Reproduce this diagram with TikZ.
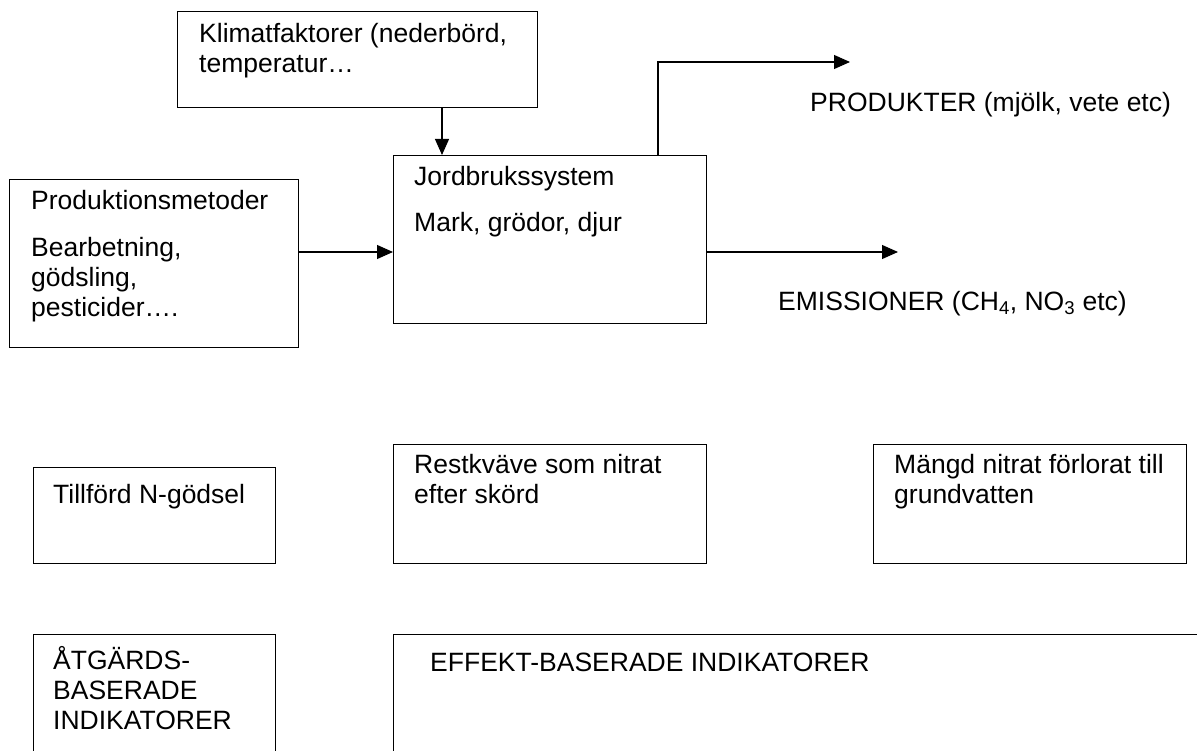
\documentclass[tikz,border=0pt]{standalone}
\usepackage{fontspec}
\setmainfont{Liberation Sans}
\usetikzlibrary{arrows.meta, calc}

\begin{document}
\begin{tikzpicture}[x=1pt, y=-1pt,
        box/.style={draw, line width=1.1pt, anchor=north west, inner sep=0pt},
        lbl/.style={anchor=north west, yshift=25pt, align=left, inner sep=0pt,
            font=\fontsize{26.5}{30}\selectfont, execute at begin node={\rule{0pt}{25pt}}},
        arr/.style={line width=1.1pt, -{Triangle[length=16pt, width=14pt]}}]

    \useasboundingbox (0,0) rectangle (1197,751);
    \clip (0,0) rectangle (1197,751);

    % upper system
    \node[box, minimum width=360pt, minimum height=96pt] (klimat) at (177,11) {};
    \node[lbl] (klimattext) at ($ (klimat.north west) + (22,37) $) {Klimatfaktorer (nederbörd,\\temperatur…};

    \node[box, minimum width=313pt, minimum height=168pt] (jord) at (393,155) {};
    \node[lbl] (jordtext) at ($ (jord.north west) + (21,36) $) {Jordbrukssystem\\[16pt]Mark, grödor, djur};

    \node[box, minimum width=289pt, minimum height=168pt] (prod) at (9,179) {};
    \node[lbl] (prodtext) at ($ (prod.north west) + (22,36) $) {Produktionsmetoder\\[17pt]Bearbetning,\\gödsling,\\pesticider….};

    % arrows
    \coordinate (klimx) at (442,0);
    \coordinate (midy) at (0,252);
    \coordinate (produp) at (658,62);
    \coordinate (prodend) at (850,62);
    \coordinate (emisend) at (898,252);

    \draw[arr] (klimat.south -| klimx) -- (jord.north -| klimx);
    \draw[arr] (prod.east |- midy) -- (jord.west |- midy);
    \draw[arr] (jord.east |- midy) -- (emisend);
    \draw[arr] (jord.north -| produp) -- (produp) -- (prodend);

    \node[lbl] (produkter) at ($ (prodend) + (-40,49) $) {PRODUKTER (mjölk, vete etc)};
    \node[lbl] (emissioner) at ($ (emisend) + (-120,58) $) {EMISSIONER (CH\textsubscript{4}, NO\textsubscript{3} etc)};

    % indicators
    \node[box, minimum width=242pt, minimum height=96pt] (tillford) at (33,467) {};
    \node[lbl] (tillfordtext) at ($ (tillford.north west) + (20,36) $) {Tillförd N-gödsel};

    \node[box, minimum width=313pt, minimum height=119pt] (restkv) at (393,444) {};
    \node[lbl] (restkvtext) at ($ (restkv.north west) + (21,35) $) {Restkväve som nitrat\\efter skörd};

    \node[box, minimum width=313pt, minimum height=119pt] (mangd) at (873,444) {};
    \node[lbl] (mangdtext) at ($ (mangd.north west) + (21,35) $) {Mängd nitrat förlorat till\\grundvatten};

    \node[box, minimum width=242pt, minimum height=200pt] (atgard) at (33,634) {};
    \node[lbl] (atgardtext) at ($ (atgard.north west) + (20,37) $) {ÅTGÄRDS-\\BASERADE\\INDIKATORER};

    \node[box, minimum width=900pt, minimum height=200pt] (effekt) at (393,634) {};
    \node[lbl] (effekttext) at ($ (effekt.north west) + (37,37) $) {EFFEKT-BASERADE INDIKATORER};

\end{tikzpicture}
\end{document}
